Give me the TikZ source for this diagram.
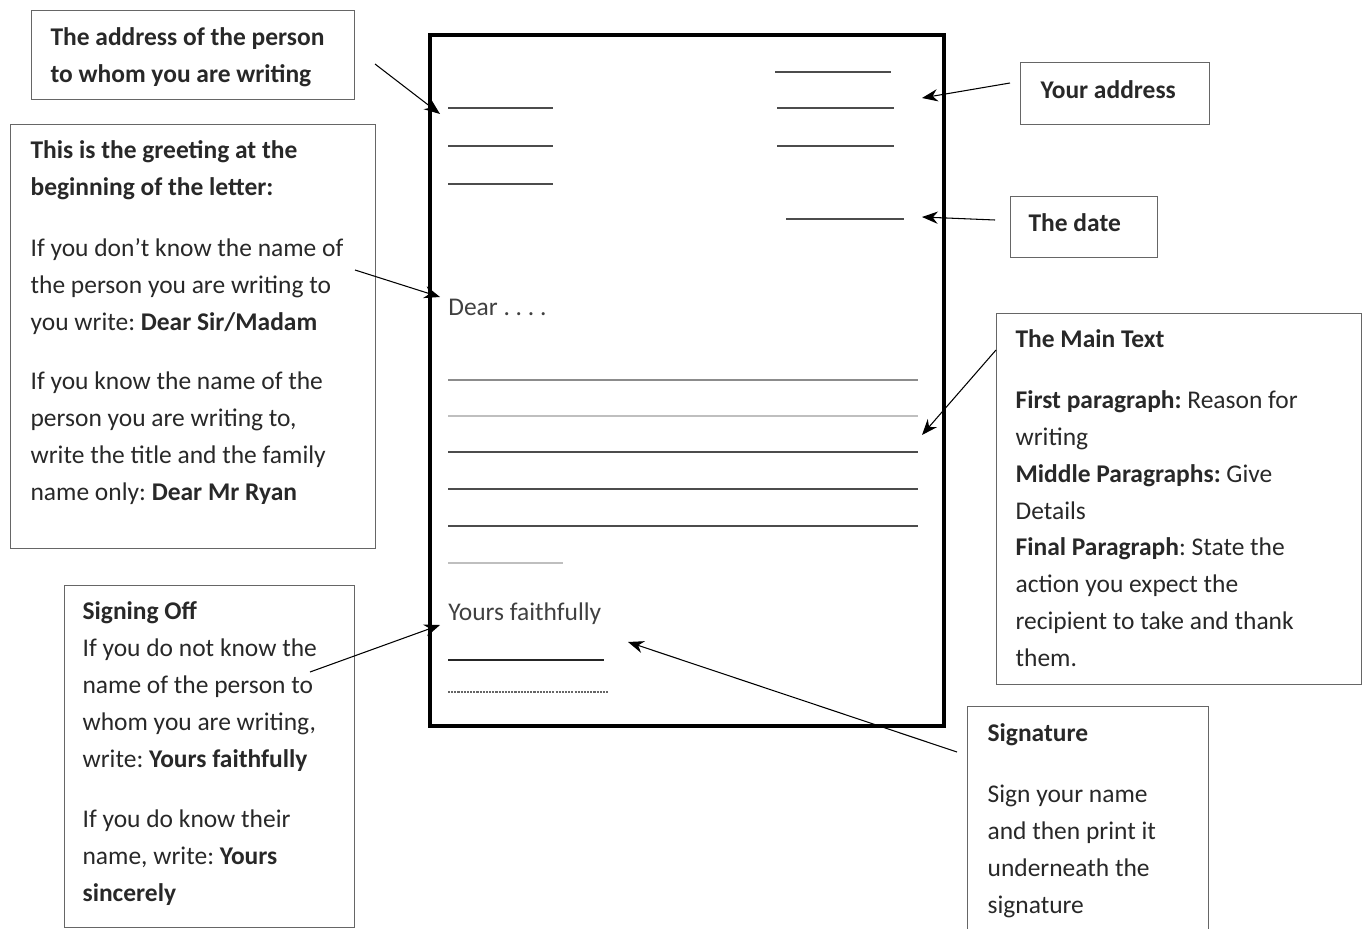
\documentclass[tikz,border=0pt]{standalone}
\usepackage{fontspec}
\setmainfont{Carlito}
\usetikzlibrary{arrows.meta}
\definecolor{inkgray}{RGB}{40,40,40}
\newcommand{\notefont}{\fontsize{14.5}{21}\selectfont}
\frenchspacing

\begin{document}
\begin{tikzpicture}[
    x=0.02cm, y=-0.02cm,
    note/.style={draw=black!60, line width=0.7pt, anchor=north west, inner sep=0pt, text=inkgray, font=\notefont},
    paperline/.style={line width=1.1pt, draw=black!70},
    paperlabel/.style={anchor=base west, inner sep=0pt, text=black!75, font=\notefont},
    arrow/.style={-{Stealth[length=9pt,width=7pt]}, line width=0.6pt}
]
\useasboundingbox (0,0) rectangle (1365,929);
\clip (0,0) rectangle (1365,929);

% the letter sheet
\node[draw, line width=2.3pt, minimum width=10.28cm, minimum height=13.82cm, anchor=north west, inner sep=0pt] (letter) at (428,33) {};

% recipient address
\draw[paperline] (448,108) -- (553,108);
\draw[paperline] (448,146) -- (553,146);
\draw[paperline] (448,184) -- (553,184);

% own address and date
\draw[paperline] (775,72) -- (891,72);
\draw[paperline] (777,108) -- (894,108);
\draw[paperline] (777,146) -- (894,146);
\draw[paperline] (786,219) -- (904,219);

\node[paperlabel] (dear) at (448,315) {Dear . . . .};

% body
\draw[paperline, draw=black!45] (448,380) -- (918,380);
\draw[paperline, draw=black!25] (448,416) -- (918,416);
\draw[paperline] (448,452) -- (918,452);
\draw[paperline] (448,489) -- (918,489);
\draw[paperline] (448,526) -- (918,526);
\draw[paperline, draw=black!25] (448,563) -- (563,563);

\node[paperlabel] (yours) at (448,620) {Yours faithfully};
\draw[paperline, draw=black!85] (448,660) -- (604,660);
\draw[paperline, draw=black!60, dash pattern=on 1.2pt off 0.6pt] (448,692) -- (608,692);

% notes round the letter
\node[note, inner xsep=0.38cm, inner ysep=0.18cm] (recipient) at (31,10)
  {\parbox[c][1.42cm][t]{5.7cm}{\strut\textbf{The address of the person}\\
   \textbf{to whom you are writing}}};

\node[note, inner xsep=0.4cm, inner ysep=0.16cm] (greeting) at (10,124)
  {\parbox[c][8.16cm][t]{6.5cm}{\strut\textbf{This is the greeting at the}\\
   \textbf{beginning of the letter:}\\[0.48cm]
   If you don’t know the name of\\
   the person you are writing to\\
   you write: \textbf{Dear Sir/Madam}\\[0.46cm]
   If you know the name of the\\
   person you are writing to,\\
   write the title and the family\\
   name only: \textbf{Dear Mr Ryan}}};

\node[note, inner xsep=0.36cm, inner ysep=0.16cm] (signoff) at (64,585)
  {\parbox[c][6.52cm][t]{5.08cm}{\strut\textbf{Signing Off}\\
   If you do not know the\\
   name of the person to\\
   whom you are writing,\\
   write: \textbf{Yours faithfully}\\[0.48cm]
   If you do know their\\
   name, write: \textbf{Yours}\\
   \textbf{sincerely}}};

\node[note, inner xsep=0.4cm, inner ysep=0.2cm] (ownaddress) at (1020,62)
  {\parbox[c][0.84cm][t]{2.98cm}{\strut\textbf{Your address}}};

\node[note, inner xsep=0.36cm, inner ysep=0.18cm] (date) at (1010,196)
  {\parbox[c][0.86cm][t]{2.22cm}{\strut\textbf{The date}}};

\node[note, inner xsep=0.38cm, inner ysep=0.16cm] (maintext) at (996,313)
  {\parbox[c][7.1cm][t]{6.54cm}{\strut\textbf{The Main Text}\\[0.48cm]
   \textbf{First paragraph:} Reason for\\
   writing\\
   \textbf{Middle Paragraphs:} Give\\
   Details\\
   \textbf{Final Paragraph}: State the\\
   action you expect the\\
   recipient to take and thank\\
   them.}};

\node[note, inner xsep=0.4cm, inner ysep=0.18cm] (signature) at (967,706)
  {\parbox[c][4.84cm][t]{4.02cm}{\strut\textbf{Signature}\\[0.48cm]
   Sign your name\\
   and then print it\\
   underneath the\\
   signature}};

% arrow ends
\coordinate (rcptail) at (375,64);
\coordinate (rcptip) at (440,114);
\coordinate (greettail) at (355,270);
\coordinate (greettip) at (440,297);
\coordinate (signofftail) at (310,672);
\coordinate (signofftip) at (440,625);
\coordinate (owntail) at (1010,83);
\coordinate (owntip) at (922,98);
\coordinate (datetail) at (995,220);
\coordinate (datetip) at (922,217);
\coordinate (maintail) at (996,350);
\coordinate (maintip) at (922,435);
\coordinate (sigtail) at (957,752);
\coordinate (sigtip) at (628,642);

\draw[arrow] (rcptail) -- (rcptip);
\draw[arrow] (greettail) -- (greettip);
\draw[arrow] (signofftail) -- (signofftip);
\draw[arrow] (owntail) -- (owntip);
\draw[arrow] (datetail) -- (datetip);
\draw[arrow] (maintail) -- (maintip);
\draw[arrow] (sigtail) -- (sigtip);

\end{tikzpicture}
\end{document}
